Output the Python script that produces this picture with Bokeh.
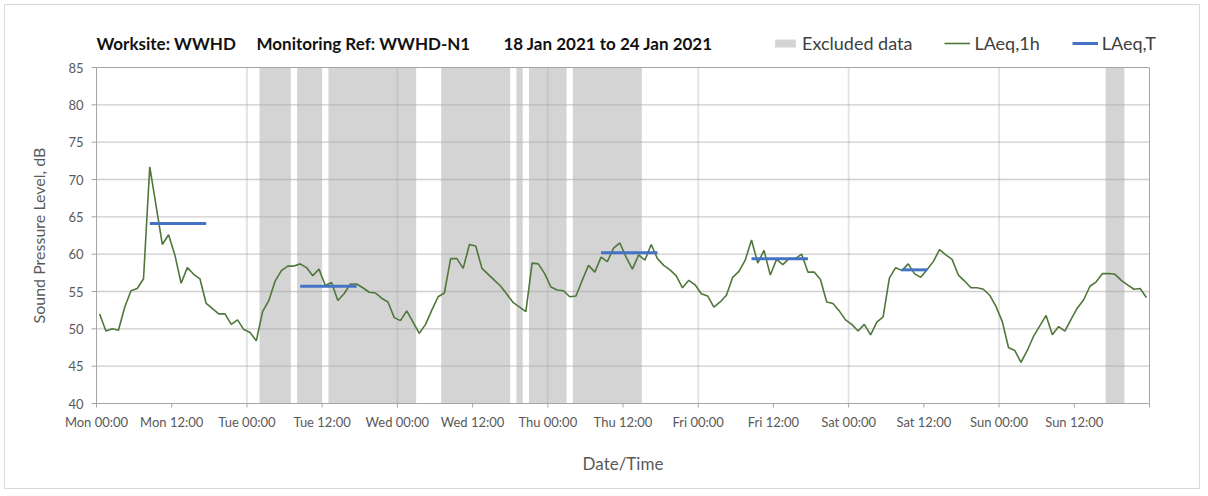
from bokeh.plotting import figure
from bokeh.models import Label, Legend, LegendItem, Range1d, ColumnDataSource
from bokeh.core.properties import value
from bokeh.embed import file_html
from bokeh.resources import INLINE
import math

# ---- data (hours since Mon 18 Jan 2021 00:00) ----
laeq_1h = [
    52.0, 49.7, 50.0, 49.8, 52.9, 55.1, 55.4, 56.7, 71.7, 66.5, 61.3, 62.6,
    59.9, 56.1, 58.2, 57.3, 56.7, 53.4, 52.7, 52.0, 52.0, 50.6, 51.2, 49.9,
    49.5, 48.4, 52.3, 53.8, 56.4, 57.8, 58.4, 58.4, 58.7, 58.2, 57.1, 58.0,
    55.8, 56.2, 53.8, 54.7, 56.0, 56.0, 55.5, 54.9, 54.8, 54.1, 53.6, 51.5,
    51.1, 52.4, 50.9, 49.4, 50.6, 52.5, 54.3, 54.8, 59.4, 59.4, 58.1, 61.3,
    61.1, 58.1, 57.3, 56.5, 55.7, 54.6, 53.5, 52.9, 52.3, 58.8, 58.7, 57.4,
    55.6, 55.2, 55.1, 54.3, 54.4, 56.5, 58.5, 57.6, 59.6, 59.0, 60.8, 61.5,
    59.6, 58.0, 59.9, 59.2, 61.3, 59.4, 58.5, 57.9, 57.1, 55.5, 56.5, 55.9,
    54.7, 54.4, 52.9, 53.6, 54.5, 56.9, 57.7, 59.2, 61.9, 58.8, 60.5, 57.2,
    59.3, 58.6, 59.4, 59.4, 60.0, 57.6, 57.6, 56.6, 53.6, 53.4, 52.4, 51.2,
    50.6, 49.7, 50.6, 49.2, 50.9, 51.6, 56.8, 58.2, 57.8, 58.7, 57.4, 56.9,
    57.9, 59.0, 60.6, 59.9, 59.3, 57.2, 56.4, 55.5, 55.5, 55.3, 54.5, 53.0,
    51.0, 47.5, 47.1, 45.5, 47.1, 49.0, 50.4, 51.8, 49.2, 50.3, 49.7, 51.3,
    52.8, 53.9, 55.7, 56.3, 57.4, 57.4, 57.3, 56.5, 55.9, 55.3, 55.4, 54.2,
]
hour_index = list(range(len(laeq_1h)))

excl_start = [26, 32, 37, 55, 67, 69, 76, 161]
excl_end = [31, 36, 51, 66, 68, 75, 87, 164]

laeqT_start = [8, 32, 80, 104, 128]
laeqT_end = [17, 41, 89, 113, 132]
laeqT_value = [64.1, 55.7, 60.2, 59.4, 57.9]

tick_hours = list(range(0, 169, 12))
tick_labels = ["Mon 00:00", "Mon 12:00", "Tue 00:00", "Tue 12:00", "Wed 00:00",
               "Wed 12:00", "Thu 00:00", "Thu 12:00", "Fri 00:00", "Fri 12:00",
               "Sat 00:00", "Sat 12:00", "Sun 00:00", "Sun 12:00", ""]
day_grid = list(range(24, 168, 24))
y_ticks = list(range(40, 86, 5))
y_tick_labels = [str(v) for v in y_ticks]
X_MIN, X_MAX = 0, 168
Y_MIN, Y_MAX = 40, 85

title_parts = ["Worksite: WWHD", "Monitoring Ref: WWHD-N1", "18 Jan 2021 to 24 Jan 2021"]
x_title = "Date/Time"
y_title = "Sound Pressure Level, dB"

# ---- layout (pixels) ----
FONT = "Lato"
AXIS_COL = "#a6a6a6"
W, H = 1196, 485                 # canvas size; the whole canvas is the plot frame
AX_LEFT, AX_BOTTOM = 91, 398     # canvas px of the 0 h axis and of the 40 dB axis
AX_W, AX_H = 1053, 336           # size of the 0-168 h x 40-85 dB area
PX_PER_H = AX_W / (X_MAX - X_MIN)
PX_PER_DB = AX_H / (Y_MAX - Y_MIN)


def dx(px):
    return px / PX_PER_H


def dy(px):
    return px / PX_PER_DB


xr0 = X_MIN - dx(AX_LEFT)
yr0 = Y_MIN - dy(H - AX_BOTTOM)
p = figure(width=W, height=H,
           x_range=Range1d(xr0, xr0 + dx(W)), y_range=Range1d(yr0, yr0 + dy(H)),
           x_axis_location=None, y_axis_location=None,
           output_backend="svg", toolbar_location=None, tools="",
           min_border=0, min_border_left=0, min_border_right=0, min_border_top=0, min_border_bottom=0)
p.background_fill_color = "white"
p.border_fill_color = "white"
p.outline_line_color = None
p.styles = {"border": "1px solid #d9d9d9", "margin": "4px 0px 0px 4px"}
for g in p.grid:
    g.visible = False

# excluded data bands
band_src = ColumnDataSource(dict(left=excl_start, right=excl_end,
                                 bottom=[Y_MIN] * len(excl_start), top=[Y_MAX] * len(excl_start)))
bands = p.quad(left="left", right="right", bottom="bottom", top="top", source=band_src,
               fill_color="#d4d4d4", line_color=None)
bands.level = "image"

# gridlines (drawn over the bands)
hg = y_ticks[1:-1]
p.segment(x0=[X_MIN] * len(hg), x1=[X_MAX] * len(hg), y0=hg, y1=hg,
          line_color="#a6a6a6", line_alpha=0.55, line_width=1.3, level="underlay")
p.segment(x0=day_grid, x1=day_grid, y0=[Y_MIN] * len(day_grid), y1=[Y_MAX] * len(day_grid),
          line_color="#a6a6a6", line_alpha=0.3, line_width=2, level="underlay")
# plot-area border: bottom axis, left axis, top, right
p.segment(x0=[X_MIN, X_MIN, X_MIN, X_MAX], x1=[X_MAX, X_MIN, X_MAX, X_MAX],
          y0=[Y_MIN, Y_MIN, Y_MAX, Y_MIN], y1=[Y_MIN, Y_MAX, Y_MAX, Y_MAX],
          line_color=AXIS_COL, line_width=1, level="underlay")
# tick marks
p.segment(x0=tick_hours, x1=tick_hours, y0=[Y_MIN] * len(tick_hours),
          y1=[Y_MIN - dy(4)] * len(tick_hours), line_color=AXIS_COL, line_width=1, level="underlay")
p.segment(x0=[X_MIN] * len(y_ticks), x1=[X_MIN - dx(5)] * len(y_ticks), y0=y_ticks, y1=y_ticks,
          line_color=AXIS_COL, line_width=1, level="underlay")
# tick labels
p.text(x=tick_hours, y=[Y_MIN - dy(10)] * len(tick_hours), text=tick_labels,
       text_font=value(FONT), text_font_size="13px", text_color="#595959",
       text_align="center", text_baseline="top")
p.text(x=[X_MIN - dx(13)] * len(y_ticks), y=y_ticks, text=y_tick_labels,
       text_font=value(FONT), text_font_size="13px", text_color="#595959",
       text_align="right", text_baseline="middle")

# hourly line
line_src = ColumnDataSource(dict(t=[h + 0.5 for h in hour_index], v=laeq_1h))
ln = p.line(x="t", y="v", source=line_src, line_color="#50773a", line_width=1.6)

# LAeq,T segments
seg_src = ColumnDataSource(dict(x0=[s + 0.5 for s in laeqT_start], x1=[e + 0.5 for e in laeqT_end],
                                y=laeqT_value))
seg = p.segment(x0="x0", y0="y", x1="x1", y1="y", source=seg_src,
                line_color="#4472c4", line_width=3)

# axis titles (screen units: from the canvas bottom-left, y upwards)
p.add_layout(Label(x=AX_LEFT + AX_W / 2, y=27, x_units="screen", y_units="screen", text=x_title,
                   text_font=FONT, text_font_size="17px", text_color="#595959",
                   text_align="center", text_baseline="middle"))
p.add_layout(Label(x=33, y=H - (AX_BOTTOM - AX_H / 2), x_units="screen", y_units="screen",
                   text=y_title, angle=math.pi / 2,
                   text_font=FONT, text_font_size="16px", text_color="#595959",
                   text_align="center", text_baseline="middle"))

# chart title pieces
for xpos, txt in zip([91, 251, 498], title_parts):
    p.add_layout(Label(x=xpos, y=447, x_units="screen", y_units="screen", text=txt,
                       text_font=FONT, text_font_style="bold", text_font_size="17px",
                       text_color="#111111", text_baseline="middle", text_align="left"))

legend = Legend(items=[LegendItem(label="Excluded data", renderers=[bands]),
                       LegendItem(label="LAeq,1h", renderers=[ln]),
                       LegendItem(label="LAeq,T", renderers=[seg])],
                location=(767, 436), orientation="horizontal",
                background_fill_alpha=0, border_line_color=None,
                padding=0, margin=0, spacing=32, glyph_width=26, glyph_height=10,
                label_standoff=4, label_text_font=FONT, label_text_font_size="18px",
                label_text_color="#404040")
p.add_layout(legend)

open("out.html", "w").write(file_html(p, INLINE))
